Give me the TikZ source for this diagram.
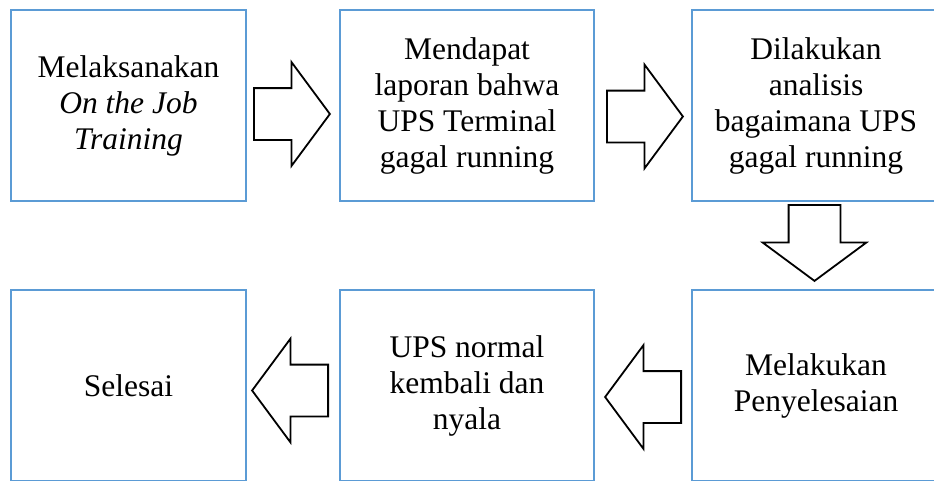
\documentclass[tikz,border=0pt]{standalone}
\usepackage{fontspec}
\setmainfont{Liberation Serif}
\usepackage{tikz}
\usetikzlibrary{shapes.arrows, positioning}
\definecolor{boxblue}{RGB}{91,155,213}

\begin{document}
\begin{tikzpicture}[
            x=1pt, y=-1pt,
            stepbox/.style={draw=boxblue, line width=1.8pt, minimum height=191pt, inner sep=0pt, align=center, font=\fontsize{31.5}{36}\selectfont},
            blockarrow/.style={single arrow, draw=black, line width=1.8pt, fill=white, inner xsep=0pt, inner ysep=25pt, single arrow head extend=26pt, single arrow tip angle=107, single arrow head indent=0pt, minimum height=76pt, anchor=tail}
        ]

        \clip (0,0) rectangle (934,480);

        % Top row
        \node[stepbox, minimum width=235pt] (ojt) at (128.5,105.5) {Melaksanakan\\ \textit{On the Job}\\ \textit{Training}};
        \node[stepbox, minimum width=254pt] (lapor) at (467,105.5) {Mendapat\\ laporan bahwa\\ UPS Terminal\\ gagal running};
        \node[stepbox, minimum width=248pt] (analisis) at (816,105.5) {Dilakukan\\ analisis\\ bagaimana UPS\\ gagal running};

        % Bottom row
        \node[stepbox, minimum width=248pt] (selesaikan) at (816,385.5) {Melakukan\\ Penyelesaian};
        \node[stepbox, minimum width=254pt] (normal) at (467,385.5) {UPS normal\\ kembali dan\\ nyala};
        \node[stepbox, minimum width=235pt] (selesai) at (128.5,385.5) {Selesai};

        % Block arrows (placed by their tail)
        \node[blockarrow] (a1) at (253,114) {};  % ojt -> lapor
        \node[blockarrow] (a2) at (606,116.5) {};  % lapor -> analisis
        \node[blockarrow, rotate=-90] (a3) at (814.5,204) {};  % analisis -> selesaikan
        \node[blockarrow, rotate=180] (a4) at (682,397) {};  % selesaikan -> normal
        \node[blockarrow, rotate=180] (a5) at (329,390.5) {};  % normal -> selesai
    \end{tikzpicture}
\end{document}
